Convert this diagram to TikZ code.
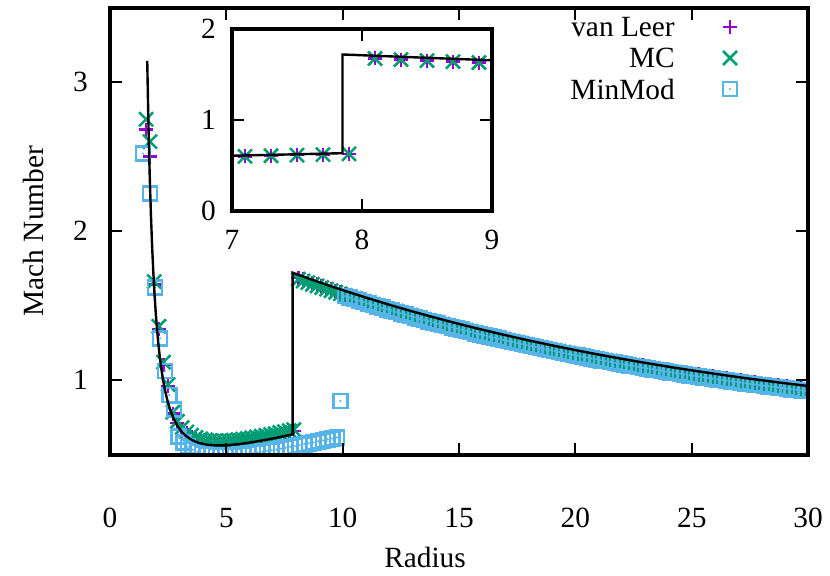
\documentclass[tikz,border=0pt]{standalone}
\usepackage{fontspec}
\setmainfont{Liberation Serif}
\definecolor{vlc}{HTML}{9400D3}
\definecolor{mcc}{HTML}{009E73}
\definecolor{mmc}{HTML}{56B4E9}
\begin{document}
\begin{tikzpicture}[x=0.75pt,y=-0.75pt,
  declare function={fL(\r)=0.3+0.04*\r+1/((\r-1)^2);
    fR(\r)=0.6+1.12*exp(-(\r-7.85)/19.5);
    mx(\r)=110+\r*23.27; my(\m)=380-(\m-1)*149;
    ix(\r)=232+(\r-7)*130; iy(\m)=211-\m*91;},
  frame/.style={line width=3.2pt},
  curve/.style={line width=1.8pt,black},
  vl/.style={vlc,line width=1.9pt},
  mc/.style={mcc,line width=1.9pt},
  mm/.style={mmc,line width=2pt},
  lab/.style={font=\fontsize{22}{26}\selectfont,inner sep=0pt}]
\useasboundingbox (0,0) rectangle (830,575);
\newcommand\mplus[2]{\draw[vl] (#1-7,#2)--(#1+7,#2) (#1,#2-7)--(#1,#2+7);}
\newcommand\mcross[2]{\draw[mc] (#1-7,#2-7)--(#1+7,#2+7) (#1-7,#2+7)--(#1+7,#2-7);}
\newcommand\msq[2]{\draw[mm] (#1-7,#2-7) rectangle (#1+7,#2+7); \fill[mmc] (#1,#2) circle (1.2);}
% ---------- main data ----------
\begin{scope}
\clip (110,8) rectangle (808,455);
\foreach \r/\m in {1.55/2.68,1.72/2.5,1.9/1.64,2.1/1.34,2.3/1.1,2.5/0.96}{\pgfmathsetmacro\X{mx(\r)}\pgfmathsetmacro\Y{my(\m)}\mplus{\X}{\Y}}
\foreach \k in {0,...,26}{\pgfmathsetmacro\r{2.7+0.2*\k}\pgfmathsetmacro\X{mx(\r)}\pgfmathsetmacro\Y{my(fL(\r)+0.02)}\mplus{\X}{\Y}}
\foreach \k in {0,...,109}{\pgfmathsetmacro\r{8.1+0.2*\k}\pgfmathsetmacro\X{mx(\r)}\pgfmathsetmacro\Y{my(fR(\r)-0.02)}\mplus{\X}{\Y}}
\foreach \r/\m in {1.55/2.75,1.72/2.6,1.9/1.66,2.1/1.36,2.3/1.12,2.5/0.97}{\pgfmathsetmacro\X{mx(\r)}\pgfmathsetmacro\Y{my(\m)}\mcross{\X}{\Y}}
\foreach \k in {0,...,26}{\pgfmathsetmacro\r{2.7+0.2*\k}\pgfmathsetmacro\X{mx(\r)}\pgfmathsetmacro\Y{my(fL(\r)+0.03)}\mcross{\X}{\Y}}
\foreach \k in {0,...,109}{\pgfmathsetmacro\r{8.1+0.2*\k}\pgfmathsetmacro\X{mx(\r)}\pgfmathsetmacro\Y{my(fR(\r)-0.03)}\mcross{\X}{\Y}}
\foreach \r/\m in {1.42/2.52,1.72/2.25,1.93/1.62,2.15/1.28,2.36/1.06,2.55/0.9,2.75/0.8}{\pgfmathsetmacro\X{mx(\r)}\pgfmathsetmacro\Y{my(\m)}\msq{\X}{\Y}}
\foreach \k in {0,...,34}{\pgfmathsetmacro\r{2.95+0.2*\k}\pgfmathsetmacro\X{mx(\r)}\pgfmathsetmacro\Y{my(fL(\r)-0.05-0.004*\r)}\msq{\X}{\Y}}
\msq{340.4}{400.9}
\foreach \k in {0,...,99}{\pgfmathsetmacro\r{10.1+0.2*\k}\pgfmathsetmacro\X{mx(\r)}\pgfmathsetmacro\Y{my(fR(\r)-0.035)}\msq{\X}{\Y}}
\draw[curve] plot[domain=1.6:7.85,samples=120] ({mx(\x)},{my(fL(\x))}) -- ({mx(7.85)},{my(fR(7.85))}) -- plot[domain=7.85:30,samples=60] ({mx(\x)},{my(fR(\x))});
\end{scope}
% ---------- main frame ----------
\foreach \v/\t in {0/0,5/5,10/10,15/15,20/20,25/25,30/30}{
  \draw[line width=1.6pt] ({mx(\v)},455) -- ({mx(\v)},443) ({mx(\v)},8) -- ({mx(\v)},20);
  \node[lab] at ({mx(\v)},518) {\t};}
\foreach \v in {1,2,3}{
  \draw[line width=1.6pt] (110,{my(\v)}) -- (122,{my(\v)}) (808,{my(\v)}) -- (796,{my(\v)});
  \node[lab,anchor=east] at (88,{my(\v)}) {\v};}
\draw[frame] (110,8) rectangle (808,455);
\node[lab] at (425,557) {Radius};
\node[lab,rotate=90] at (33,231) {Mach Number};
% ---------- legend ----------
\node[lab,anchor=east] at (675,27) {van Leer}; \mplus{730}{27}
\node[lab,anchor=east] at (675,58) {MC}; \mcross{730}{58}
\node[lab,anchor=east] at (675,89) {MinMod}; \msq{730}{89}
% ---------- inset ----------
\fill[white] (232,29) rectangle (492,211);
\begin{scope}
\clip (232,29) rectangle (492,211);
\foreach \r in {7.1,7.3,7.5,7.7,7.9}{\pgfmathsetmacro\X{ix(\r)}\pgfmathsetmacro\Y{iy(fL(\r)-0.01)}\mplus{\X}{\Y}\mcross{\X}{\Y}}
\foreach \r in {8.1,8.3,8.5,8.7,8.9}{\pgfmathsetmacro\X{ix(\r)}\pgfmathsetmacro\Y{iy(fR(\r)-0.03)}\mplus{\X}{\Y}\mcross{\X}{\Y}}
\draw[curve] plot[domain=7:7.85,samples=20] ({ix(\x)},{iy(fL(\x))}) -- ({ix(7.85)},{iy(fR(7.85))}) -- plot[domain=7.85:9,samples=20] ({ix(\x)},{iy(fR(\x))});
\end{scope}
\foreach \v in {7,8,9}{
  \draw[line width=1.6pt] ({ix(\v)},211) -- ({ix(\v)},199) ({ix(\v)},29) -- ({ix(\v)},41);
  \node[lab] at ({ix(\v)},240) {\v};}
\foreach \v in {0,1,2}{
  \draw[line width=1.6pt] (232,{iy(\v)}) -- (244,{iy(\v)}) (492,{iy(\v)}) -- (480,{iy(\v)});
  \node[lab,anchor=east] at (216,{iy(\v)}) {\v};}
\draw[frame] (232,29) rectangle (492,211);
\end{tikzpicture}
\end{document}
